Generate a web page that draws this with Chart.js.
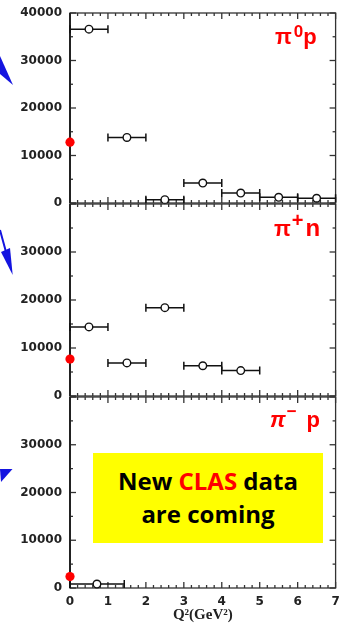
<!DOCTYPE html>
<html><head><meta charset="utf-8">
<script src="https://cdn.jsdelivr.net/npm/chart.js@4/dist/chart.umd.min.js"></script>
<style>
html,body{margin:0;padding:0;background:#fff;}
#wrap{position:relative;width:341px;height:624px;overflow:hidden;background:#fff;}
#wrap canvas{position:absolute;left:0;top:0;}
.lbl{position:absolute;color:#ff0000;font-family:"Liberation Sans",Arial,sans-serif;font-weight:bold;font-size:22px;line-height:22px;white-space:nowrap;}
.lbl .s{font-size:17px;position:relative;}
#note{position:absolute;left:93px;top:453px;width:230px;height:90px;background:#ffff00;
  font-family:"Open Sans",Lato,sans-serif;font-weight:bold;font-size:24px;line-height:33px;text-align:center;color:#000;
  box-sizing:border-box;padding-top:11px;letter-spacing:0;}
#note .r{color:#ff0000;}
svg{position:absolute;left:0;top:0;}
</style></head>
<body><div id="wrap">
<canvas id="c1" width="341" height="624"></canvas>
<canvas id="c2" width="341" height="624"></canvas>
<canvas id="c3" width="341" height="624"></canvas>
<svg width="341" height="624">
  <polygon points="0,56 0,74 13,85" fill="#1414e0"/>
  <line x1="0" y1="230" x2="6" y2="252" stroke="#1414e0" stroke-width="2"/>
  <polygon points="1,252 10,248 12.7,275" fill="#1414e0"/>
  <polygon points="0,469 12.5,469 1,482" fill="#1414e0"/>
</svg>
<div class="lbl" style="left:275px;top:26px">π<span class="s" style="top:-7px;margin-left:2px">0</span>p</div>
<div class="lbl" style="left:274px;top:217px">π<span class="s" style="top:-9px;font-size:20px;margin-left:1px">+</span><span style="margin-left:2px;font-size:24px">n</span></div>
<div class="lbl" style="left:270px;top:409px"><i>π</i><span class="s" style="top:-10px;margin-left:1px">−</span><span style="margin-left:10px">p</span></div>
<div id="note">New <span class="r">CLAS</span> data<br>are coming</div>
</div>
<script>
// ---- axis ranges / ticks ----
const Q2_RANGE = [0, 7];
const Y_RANGE = [0, 40000];
const Y_STEP = 10000;
const Y_MINOR = 5000;
const Q2_STEP = 1;
const Q2_MINOR = 0.2;
const X_TITLE = 'Q\u00B2(GeV\u00B2)';

// ---- pi0 p ----
const pi0p_q2  = [0.5, 1.5, 2.5, 3.5, 4.5, 5.5, 6.5];
const pi0p_lo  = [0, 1, 2, 3, 4, 5, 6];
const pi0p_hi  = [1, 2, 3, 4, 5, 6, 7];
const pi0p_val = [36600, 13800, 700, 4200, 2100, 1200, 1000];
const pi0p_photo = [12800];

// ---- pi+ n ----
const pipn_q2  = [0.5, 1.5, 2.5, 3.5, 4.5];
const pipn_lo  = [0, 1, 2, 3, 4];
const pipn_hi  = [1, 2, 3, 4, 5];
const pipn_val = [14400, 6900, 18400, 6300, 5300];
const pipn_photo = [7700];

// ---- pi- p ----
const pimp_q2  = [0.71];
const pimp_lo  = [0];
const pimp_hi  = [1.43];
const pimp_val = [830];
const pimp_photo = [2400];

const PHOTO_Q2 = 0;

const TICK_FONT = {family:'"DejaVu Sans", sans-serif', size:12, weight:'bold'};

const frame = {
  id:'frame',
  beforeDatasetsDraw(chart){
    const {ctx, chartArea:a, scales:{x, y}} = chart;
    ctx.save();
    ctx.strokeStyle = '#333';
    ctx.lineWidth = 1.3;
    const ln = (x1,y1,x2,y2)=>{ctx.beginPath();ctx.moveTo(x1,y1);ctx.lineTo(x2,y2);ctx.stroke();};
    ctx.strokeRect(a.left, a.top, a.right - a.left, a.bottom - a.top);
    const nx = Math.round((Q2_RANGE[1]-Q2_RANGE[0])/Q2_MINOR);
    for (let i=0;i<=nx;i++){
      const v = Q2_RANGE[0] + i*Q2_MINOR;
      const px = x.getPixelForValue(v);
      const L = (i % Math.round(Q2_STEP/Q2_MINOR) === 0) ? 6 : 3;
      ln(px, a.bottom, px, a.bottom - L);
      ln(px, a.top, px, a.top + L);
    }
    const ny = Math.round((Y_RANGE[1]-Y_RANGE[0])/Y_MINOR);
    for (let i=0;i<=ny;i++){
      const v = Y_RANGE[0] + i*Y_MINOR;
      const py = y.getPixelForValue(v);
      const L = (i % Math.round(Y_STEP/Y_MINOR) === 0) ? 6 : 3;
      ln(a.left, py, a.left + L, py);
      ln(a.right, py, a.right - L, py);
    }
    ctx.strokeStyle = '#222';
    ctx.lineWidth = 2;
    ln(a.left, a.top, a.left, a.bottom);
    ctx.restore();
  }
};

const errorBars = {
  id:'errorBars',
  beforeDatasetsDraw(chart){
    const {ctx, scales:{x, y}} = chart;
    const pts = chart.data.datasets[0].data;
    ctx.save();
    ctx.strokeStyle = '#111';
    ctx.lineWidth = 1.5;
    pts.forEach(p=>{
      const py = y.getPixelForValue(p.y);
      const x1 = x.getPixelForValue(p.xMin), x2 = x.getPixelForValue(p.xMax);
      ctx.beginPath();
      ctx.moveTo(x1, py); ctx.lineTo(x2, py);
      ctx.moveTo(x1, py-4); ctx.lineTo(x1, py+4);
      ctx.moveTo(x2, py-4); ctx.lineTo(x2, py+4);
      ctx.stroke();
    });
    ctx.restore();
  }
};

function makeChart(id, q2, lo, hi, val, photo, o){
  const pts = q2.map((x,i)=>({x:x, y:val[i], xMin:lo[i], xMax:hi[i]}));
  const photoPts = photo.map(v=>({x:PHOTO_Q2, y:v}));
  return new Chart(document.getElementById(id), {
    type:'scatter',
    data:{datasets:[
      {data:pts, pointRadius:3.8, pointBorderWidth:1.4, pointBorderColor:'#111', pointBackgroundColor:'#fff', clip:false},
      {data:photoPts, pointRadius:4.6, pointBorderWidth:0, pointBorderColor:'#ff0000', pointBackgroundColor:'#ff0000', clip:false}
    ]},
    options:{
      responsive:false, animation:false, events:[],
      layout:{padding:{top:o.top, bottom:o.bottom, left:0, right:3}},
      plugins:{legend:{display:false}, tooltip:{enabled:false}},
      scales:{
        x:{type:'linear', min:Q2_RANGE[0], max:Q2_RANGE[1], display:o.showX,
           grid:{display:false, drawTicks:false}, border:{display:false},
           ticks:{stepSize:Q2_STEP, padding:7, font:TICK_FONT, color:'#222', maxRotation:0, autoSkip:false,
                  callback:v=>String(v)},
           title:{display:true, text:X_TITLE, padding:0, color:'#222',
                  font:{family:'"Liberation Serif", serif', size:15, weight:'bold'}},
           afterFit:s=>{ if (o.showX) { s.height = 36; } else { s.height = 0; } s.paddingLeft = 0; s.paddingRight = 0;}},
        y:{type:'linear', min:Y_RANGE[0], max:Y_RANGE[1],
           grid:{display:false, drawTicks:false}, border:{display:false},
           ticks:{stepSize:Y_STEP, padding:8, font:TICK_FONT, color:'#222',
                  callback:v=>(o.hideTop && v===Y_RANGE[1]) ? '' : String(v)},
           afterFit:s=>{s.width = 70; s.paddingTop = 0; s.paddingBottom = 0;}}
      }
    },
    plugins:[frame, errorBars]
  });
}

makeChart('c1', pi0p_q2, pi0p_lo, pi0p_hi, pi0p_val, pi0p_photo, {top:13, bottom:624-203, showX:false, hideTop:false});
makeChart('c2', pipn_q2, pipn_lo, pipn_hi, pipn_val, pipn_photo, {top:204, bottom:624-396, showX:false, hideTop:true});
makeChart('c3', pimp_q2, pimp_lo, pimp_hi, pimp_val, pimp_photo, {top:397, bottom:0, showX:true, hideTop:true});
</script>
</body></html>
